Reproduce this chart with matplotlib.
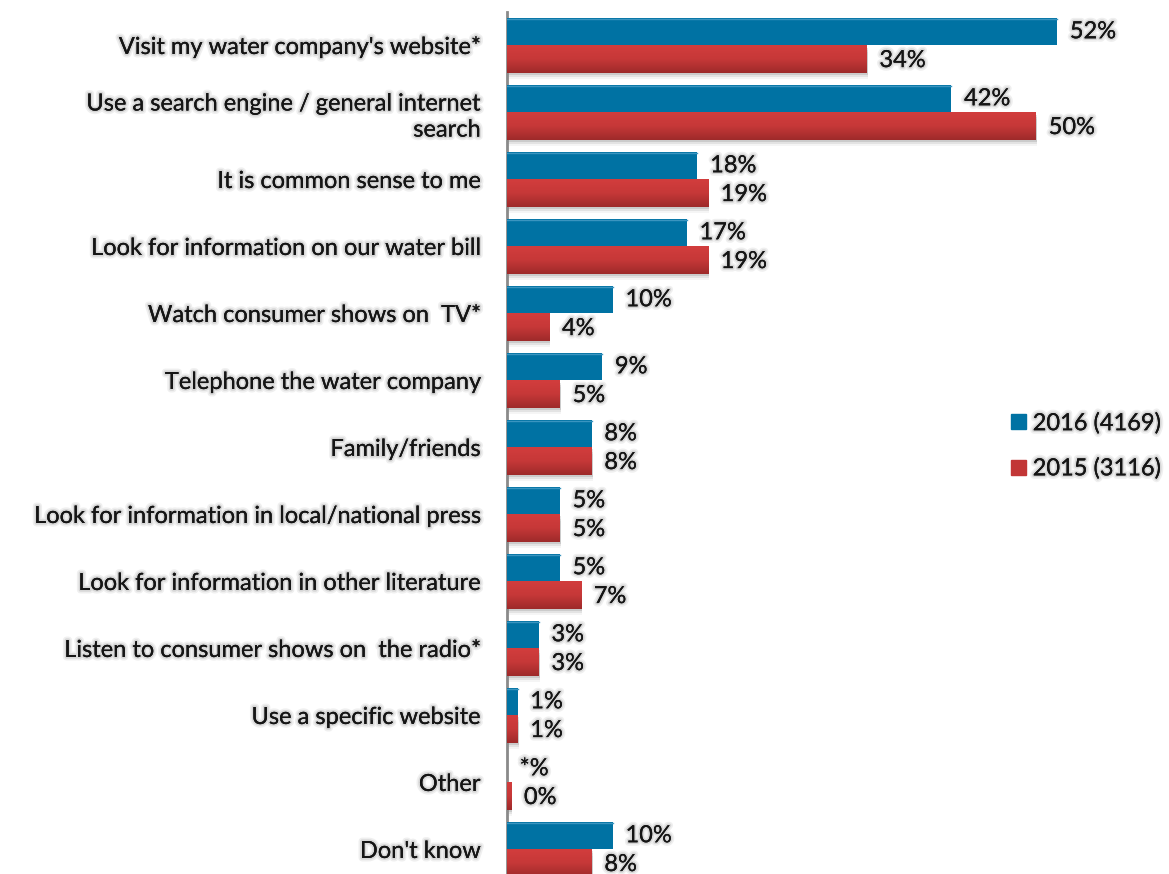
import numpy as np
import matplotlib.pyplot as plt
import matplotlib.patheffects as pe
from matplotlib.patches import Rectangle
from matplotlib.colors import LinearSegmentedColormap

plt.rcParams['font.family'] = ['Lato', 'DejaVu Sans']

categories = [
    "Visit my water company's website*",
    "Use a search engine / general internet\nsearch",
    "It is common sense to me",
    "Look for information on our water bill",
    "Watch consumer shows on  TV*",
    "Telephone the water company",
    "Family/friends",
    "Look for information in local/national press",
    "Look for information in other literature",
    "Listen to consumer shows on  the radio*",
    "Use a specific website",
    "Other",
    "Don't know",
]
v2016 = [52, 42, 18, 17, 10, 9, 8, 5, 5, 3, 1, 0, 10]
v2015 = [34, 50, 19, 19, 4, 5, 8, 5, 7, 3, 1, 0.4, 8]
lab2016 = ["52%", "42%", "18%", "17%", "10%", "9%", "8%", "5%", "5%", "3%", "1%", "*%", "10%"]
lab2015 = ["34%", "50%", "19%", "19%", "4%", "5%", "8%", "5%", "7%", "3%", "1%", "0%", "8%"]

blue = '#0072a3'
red_top, red_bot = '#d23d3d', '#9e2a2a'
txt = '#151515'
fs = 17
glow = [pe.withStroke(linewidth=5, foreground='#d8d8d8', alpha=0.4),
        pe.withStroke(linewidth=2.5, foreground='#c4c4c4', alpha=0.55),
        pe.Normal()]

fig = plt.figure(figsize=(11.69, 8.74), dpi=100)
ax = fig.add_axes([507 / 1169, 0, 662 / 1169, 862 / 874])

y = np.arange(len(categories))
h = 0.41
ax.set_xlim(0, 662 / 10.58)
ax.set_ylim(12.366, -0.5)

red_cmap = LinearSegmentedColormap.from_list('r', [red_top, '#c63838', red_bot])
grad = np.linspace(0, 1, 64).reshape(-1, 1)

for i in range(len(categories)):
    yb, yr = y[i] - h / 2, y[i] + h / 2
    # soft drop shadow under the red bar
    for k, a in enumerate([0.10, 0.07, 0.04]):
        off = 0.03 + 0.03 * k
        ax.add_patch(Rectangle((0, yr - h / 2 + off), v2015[i] + 0.1, h,
                               facecolor='#000000', alpha=a, linewidth=0, zorder=1))
    if v2016[i] > 0:
        ax.barh(yb, v2016[i], height=h, color=blue, linewidth=0, zorder=3)
        ax.plot([0, v2016[i]], [yb - h / 2 + 0.01] * 2, color='#3a95c0', lw=1, zorder=4)
    bar = ax.barh(yr, v2015[i], height=h, color=red_top, linewidth=0, zorder=3)[0]
    im = ax.imshow(grad, cmap=red_cmap, aspect='auto', zorder=3.5,
                   extent=(0, v2015[i], yr + h / 2, yr - h / 2))
    im.set_clip_path(bar)

    ax.text(v2016[i] + 1.2, yb, lab2016[i], va='center', ha='left', fontsize=fs,
            color=txt, path_effects=glow, zorder=5)
    ax.text(v2015[i] + 1.2, yr + 0.02, lab2015[i], va='center', ha='left', fontsize=fs,
            color=txt, path_effects=glow, zorder=5)

ax.set_yticks(y)
ax.set_yticklabels(categories, fontsize=fs, color=txt, ha='right', linespacing=1.3)
for t in ax.get_yticklabels():
    t.set_path_effects(glow)
ax.tick_params(axis='y', length=0, pad=19)
ax.set_xticks([])
for s in ['top', 'right', 'bottom']:
    ax.spines[s].set_visible(False)
ax.spines['left'].set_color('#8a8a8a')
ax.spines['left'].set_linewidth(2)

# legend
lh = [Rectangle((0, 0), 1, 1, color=blue), Rectangle((0, 0), 1, 1, color='#c23636')]
leg = ax.legend(lh, ['2016 (4169)', '2015 (3116)'], loc='center left',
                bbox_to_anchor=(0.762, 0.4965), frameon=False, fontsize=fs,
                borderaxespad=0, borderpad=0,
                handlelength=0.6, handleheight=0.6, handletextpad=0.3, labelspacing=1.0)
for t in leg.get_texts():
    t.set_color(txt)
    t.set_path_effects(glow)

fig.savefig('out.png', dpi=100)
